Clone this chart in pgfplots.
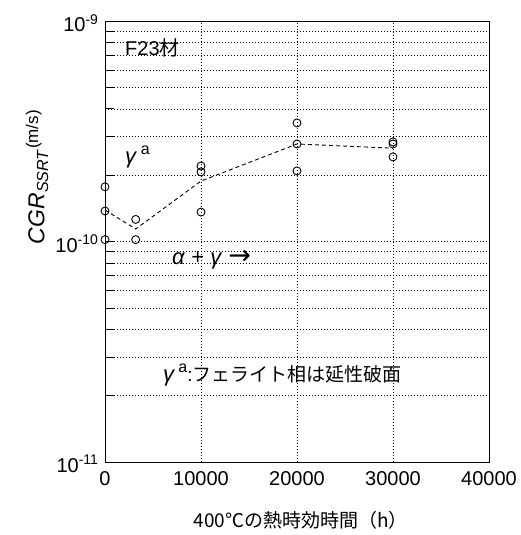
\documentclass[border=0pt]{standalone}
\usepackage{fontspec}
\setmainfont{Liberation Sans}
\newfontfamily\cjk{Noto Sans CJK JP}
\newfontfamily\dejavu{DejaVu Sans}
\usepackage{pgfplots}
\pgfplotsset{compat=1.18}
\newcommand{\tl}{\fontsize{20}{24}\selectfont}
\begin{document}
\begin{tikzpicture}
\begin{axis}[
 scale only axis, width=384pt, height=441pt,
 xmin=0, xmax=40000, ymode=log, ymin=1e-11, ymax=1e-9,
 scaled x ticks=false,
 xtick={0,10000,20000,30000,40000},
 xticklabels={\tl 0,\tl 10000,\tl 20000,\tl 30000,\tl 40000},
 ytick={1e-11,1e-10,1e-9},
 yticklabels={\tl 10\textsuperscript{-11},\tl 10\textsuperscript{-10},\tl 10\textsuperscript{-9}},
 tick align=inside, xtick pos=bottom, ytick pos=left,
 major tick length=9pt, minor tick length=9pt,
 x tick style={draw=none},
 tick style={black, line width=0.6pt},
 axis line style={line width=0.9pt},
 xmajorgrids, ymajorgrids, yminorgrids,
 major grid style={black, line width=0.5pt, dash pattern=on 1.5pt off 1.5pt},
 minor grid style={black, line width=0.5pt, dash pattern=on 1.5pt off 1.5pt},
 xticklabel style={yshift=-6pt},
 yticklabel style={xshift=-3pt, yshift=-2pt},
 clip=false,
]
\addplot[only marks, mark=o, mark size=4pt, mark options={line width=0.9pt}, black] coordinates {
 (0,1.77e-10) (0,1.375e-10) (0,1.02e-10)
 (3200,1.26e-10) (3200,1.02e-10)
 (10000,2.2e-10) (10000,2.07e-10) (10000,1.36e-10)
 (20000,3.45e-10) (20000,2.77e-10) (20000,2.09e-10)
 (30000,2.83e-10) (30000,2.77e-10) (30000,2.42e-10)
};
\addplot[black, line width=0.9pt, dash pattern=on 4pt off 3pt] coordinates {
 (0,1.39e-10) (3200,1.14e-10) (10000,1.88e-10) (20000,2.77e-10) (30000,2.65e-10)
};
\node[anchor=west, inner sep=0pt] at (axis cs:2083,7.55e-10) {\fontsize{20}{20}\selectfont F23\cjk 材};
\node[anchor=west, inner sep=0pt] at (axis cs:2083,2.41e-10) {\fontsize{22}{22}\selectfont \textit{γ}\,{\fontsize{16}{16}\selectfont\raisebox{1.1ex}{a}}};
\node[anchor=west, inner sep=0pt] at (axis cs:6979,8.24e-11) {\fontsize{22}{22}\selectfont \textit{α} + \textit{γ} {\dejavu\fontsize{27}{27}\selectfont →}};
\node[anchor=west, inner sep=0pt] at (axis cs:6042,2.48e-11) {\fontsize{19}{19}\selectfont {\fontsize{22}{22}\selectfont\textit{γ}}\,{\fontsize{16}{16}\selectfont\raisebox{1.1ex}{a}}:\cjk フェライト相は延性破面};
\node[rotate=90, inner sep=0pt] at (rel axis cs:-0.177,0.646) {\fontsize{23}{23}\selectfont \textit{CGR}\textsubscript{\textit{SSRT}}\raisebox{0.5ex}{\fontsize{17}{17}\selectfont (m/s)}};
\node[inner sep=0pt] at (rel axis cs:0.51,-0.1315) {\fontsize{19}{19}\selectfont\cjk 400℃の熱時効時間（h）};
\coordinate (bl) at (rel axis cs:0,0);
\coordinate (tr) at (rel axis cs:1,1);
\end{axis}
\path ([shift={(-105pt,-73pt)}]bl) rectangle ([shift={(27pt,21pt)}]tr);
\end{tikzpicture}
\end{document}
